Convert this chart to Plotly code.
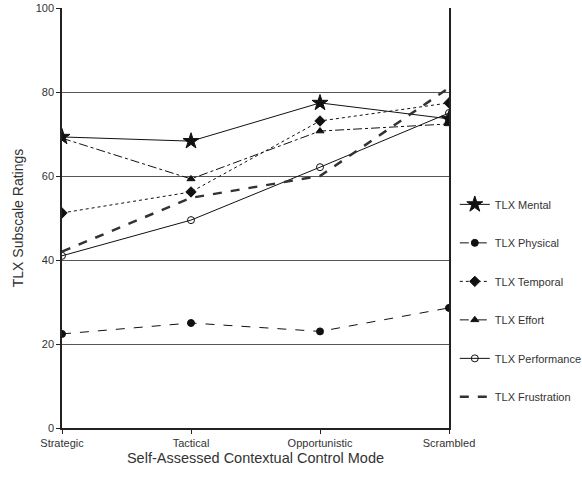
import plotly.graph_objects as go

modes = ["Strategic", "Tactical", "Opportunistic", "Scrambled"]
mental = [69.3, 68.3, 77.4, 73.6]
physical = [22.4, 25.0, 23.0, 28.6]
temporal = [51.2, 56.2, 73.1, 77.4]
effort = [69.0, 59.3, 70.7, 72.4]
performance = [41.0, 49.5, 62.1, 75.0]
frustration = [42.0, 54.8, 60.0, 81.0]

series = [
    ("TLX Mental", mental, "solid", 1, "star", 12, "#111"),
    ("TLX Physical", physical, "dash", 1, "circle", 7, "#111"),
    ("TLX Temporal", temporal, "dot", 1, "diamond", 8, "#111"),
    ("TLX Effort", effort, "dashdot", 1, "triangle-up", 7, "#111"),
    ("TLX Performance", performance, "solid", 1, "circle-open", 7, "#111"),
    ("TLX Frustration", frustration, "dash", 2.5, None, 0, "#333"),
]

fig = go.Figure()
for i, (name, vals, dash, w, sym, size, col) in enumerate(series):
    kw = dict(x=modes, y=vals, name=name, legendgroup=str(i),
              line=dict(color=col, width=w, dash=dash))
    if sym:
        kw["mode"] = "lines+markers"
        kw["marker"] = dict(symbol=sym, size=size, color="#111",
                            line=dict(color="#111", width=1))
    else:
        kw["mode"] = "lines"
    fig.add_trace(go.Scatter(**kw))

fig.update_layout(
    width=582, height=492,
    margin=dict(l=62, r=133, t=8, b=64, autoexpand=False),
    paper_bgcolor="white", plot_bgcolor="white",
    font=dict(family="Liberation Sans, Arial, sans-serif", size=11, color="#333"),
    legend=dict(x=1.015, y=0.567, xanchor="left", yanchor="top",
                tracegroupgap=19.5, font=dict(size=11, color="#333"),
                bgcolor="rgba(0,0,0,0)"),
    xaxis=dict(type="category", range=[0, 3], showline=True, linecolor="#222",
               linewidth=1.5, ticks="outside", ticklen=4, tickcolor="#222",
               showgrid=False, zeroline=False, automargin=False,
               title=dict(text="Self-Assessed Contextual Control Mode",
                          font=dict(size=14.5, color="#333"), standoff=5)),
    yaxis=dict(range=[0, 100], tickvals=[0, 20, 40, 60, 80, 100],
               showline=True, linecolor="#222", linewidth=1.5, mirror=True,
               ticks="outside", ticklen=4, tickcolor="#222", automargin=False,
               showgrid=True, gridcolor="#555", gridwidth=1, zeroline=False,
               title=dict(text="TLX Subscale Ratings",
                          font=dict(size=14, color="#333"), standoff=9)),
)

fig.write_html("out.html", config={"displayModeBar": False},
               post_script="document.body.style.margin='0';")
